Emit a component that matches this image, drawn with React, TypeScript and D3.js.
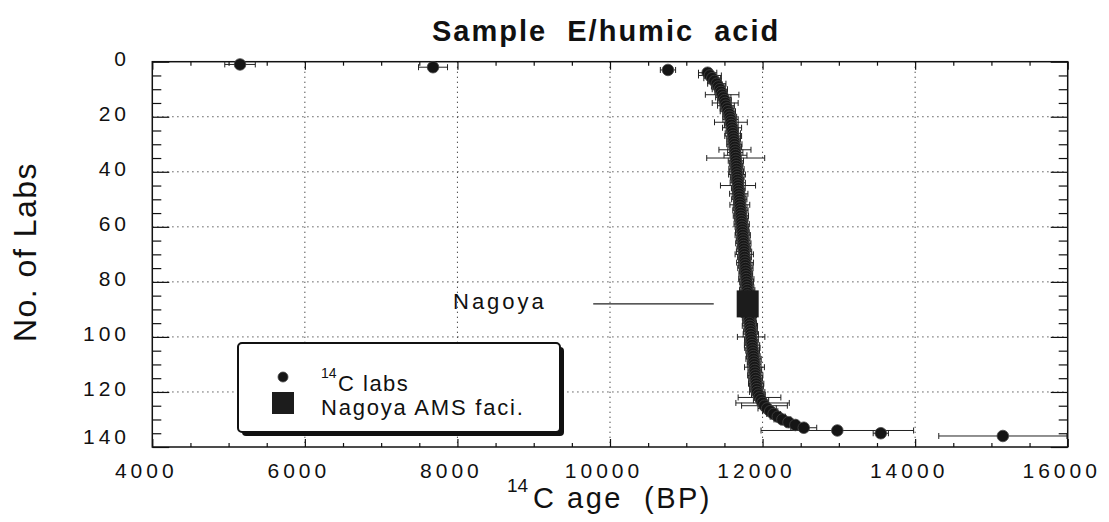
import { useEffect, useRef } from "react";
import * as d3 from "d3";

// axis ticks
const xTicks = [4000, 6000, 8000, 10000, 12000, 14000, 16000];
const yTicks = [0, 20, 40, 60, 80, 100, 120, 140];
const xMinor = [4500, 5000, 5500, 6500, 7000, 7500, 8500, 9000, 9500, 10500, 11000, 11500, 12500, 13000, 13500, 14500, 15000, 15500];
const yMinor = [5, 10, 15, 25, 30, 35, 45, 50, 55, 65, 70, 75, 85, 90, 95, 105, 110, 115, 125, 130, 135];

// 14C age (BP) of each lab, sorted; rank = index + 1
const labAges = [
  5150, 7680, 10760, 11280, 11310, 11340, 11370, 11400, 11420, 11440,
  11455, 11470, 11485, 11500, 11510, 11520, 11535, 11545, 11560, 11570,
  11580, 11585, 11590, 11600, 11603, 11610, 11615, 11620, 11625, 11630,
  11635, 11638, 11642, 11645, 11648, 11650, 11654, 11656, 11658, 11660,
  11665, 11668, 11670, 11675, 11678, 11682, 11685, 11688, 11692, 11695,
  11700, 11702, 11706, 11710, 11713, 11716, 11720, 11722, 11726, 11730,
  11733, 11736, 11740, 11742, 11745, 11748, 11750, 11754, 11757, 11760,
  11763, 11766, 11770, 11772, 11775, 11778, 11780, 11784, 11787, 11790,
  11793, 11796, 11799, 11801, 11803, 11805, 11808, 11810, 11812, 11815,
  11818, 11821, 11825, 11827, 11830, 11834, 11838, 11842, 11846, 11850,
  11854, 11858, 11862, 11866, 11870, 11874, 11878, 11882, 11886, 11890,
  11894, 11898, 11900, 11904, 11908, 11912, 11916, 11920, 11924, 11930,
  11945, 11960, 11980, 12000, 12025, 12060, 12100, 12145, 12200, 12260,
  12340, 12430, 12540, 12980, 13550, 15150,
];

// 1-sigma errors (yr)
const labErrors = [
  200, 190, 100, 120, 150, 110, 90, 120, 90, 100,
  80, 220, 100, 90, 170, 110, 90, 100, 80, 90,
  100, 215, 90, 125, 80, 100, 110, 90, 80, 100,
  90, 210, 100, 150, 380, 100, 90, 80, 100, 90,
  110, 90, 80, 100, 230, 90, 80, 120, 90, 100,
  80, 130, 90, 100, 80, 100, 90, 80, 100, 90,
  80, 90, 100, 80, 90, 100, 80, 90, 100, 120,
  90, 80, 110, 90, 100, 80, 90, 80, 100, 90,
  80, 90, 100, 80, 90, 80, 90, 80, 100, 90,
  80, 100, 90, 80, 90, 100, 80, 90, 100, 180,
  90, 80, 100, 100, 90, 80, 90, 100, 80, 90,
  130, 90, 80, 100, 90, 80, 100, 90, 80, 100,
  90, 280, 100, 350, 300, 120, 100, 90, 100, 110,
  100, 120, 170, 1000, 100, 840,
];

const nagoyaRank = 88;
const nagoyaAge = 11805;
const nagoyaLine = [9780, 11360]; // leader line in age units

const W = 1109;
const H = 522;
const font = "'Liberation Sans', Arial, Helvetica, sans-serif";

const App = () => {
  const svgRef = useRef<SVGSVGElement>(null);

  useEffect(() => {
    const svg = d3.select(svgRef.current);
    svg.selectAll("*").remove();

    const left = 152.3, right = 1067.7, top = 61.7, bottom = 447;
    const x = d3.scaleLinear().domain([4000, 16000]).range([left, right]);
    const y = d3.scaleLinear().domain([0, 140]).range([top, bottom]);

    svg.append("rect").attr("width", W).attr("height", H).attr("fill", "white");

    // grid lines
    svg.selectAll(".vgrid")
      .data(xTicks.slice(1, -1))
      .join("line")
      .attr("x1", d => x(d)).attr("x2", d => x(d))
      .attr("y1", top).attr("y2", bottom)
      .attr("stroke", "#333").attr("stroke-width", 1)
      .attr("stroke-dasharray", "1.2,3.8");
    svg.selectAll(".hgrid")
      .data(yTicks.slice(1, -1))
      .join("line")
      .attr("x1", left).attr("x2", right)
      .attr("y1", d => y(d)).attr("y2", d => y(d))
      .attr("stroke", "#333").attr("stroke-width", 1)
      .attr("stroke-dasharray", "1.2,3.8");

    // ticks (inward)
    const tickStyle = (g: any) => {
      g.select(".domain").remove();
      g.selectAll("line").attr("stroke", "#111").attr("stroke-width", 1.2);
      g.selectAll("text").remove();
    };
    svg.append("g").attr("transform", `translate(0,${bottom})`)
      .call(d3.axisBottom(x).tickValues(xTicks).tickSize(-8).tickFormat(() => "")).call(tickStyle);
    svg.append("g").attr("transform", `translate(0,${bottom})`)
      .call(d3.axisBottom(x).tickValues(xMinor).tickSize(-4).tickFormat(() => "")).call(tickStyle);
    svg.append("g").attr("transform", `translate(0,${top})`)
      .call(d3.axisTop(x).tickValues(xTicks).tickSize(-8).tickFormat(() => "")).call(tickStyle);
    svg.append("g").attr("transform", `translate(0,${top})`)
      .call(d3.axisTop(x).tickValues(xMinor).tickSize(-4).tickFormat(() => "")).call(tickStyle);
    svg.append("g").attr("transform", `translate(${left},0)`)
      .call(d3.axisLeft(y).tickValues(yTicks).tickSize(-17).tickFormat(() => "")).call(tickStyle);
    svg.append("g").attr("transform", `translate(${left},0)`)
      .call(d3.axisLeft(y).tickValues(yMinor).tickSize(-9).tickFormat(() => "")).call(tickStyle);
    svg.append("g").attr("transform", `translate(${right},0)`)
      .call(d3.axisRight(y).tickValues(yTicks).tickSize(-17).tickFormat(() => "")).call(tickStyle);
    svg.append("g").attr("transform", `translate(${right},0)`)
      .call(d3.axisRight(y).tickValues(yMinor).tickSize(-9).tickFormat(() => "")).call(tickStyle);

    // frame
    svg.append("rect")
      .attr("x", left).attr("y", top)
      .attr("width", right - left).attr("height", bottom - top)
      .attr("fill", "none").attr("stroke", "#111").attr("stroke-width", 1.5);

    // tick labels
    svg.selectAll(".xlab")
      .data(xTicks)
      .join("text")
      .attr("x", d => x(d) - 6).attr("y", 478)
      .attr("text-anchor", "middle")
      .style("font-family", font).style("font-size", "21px")
      .style("letter-spacing", "4px").attr("fill", "#111")
      .text(d => d);
    svg.selectAll(".ylab")
      .data(yTicks)
      .join("text")
      .attr("x", 130).attr("y", d => y(d) + (d === 140 ? -3 : 4))
      .attr("text-anchor", "end")
      .style("font-family", font).style("font-size", "21px")
      .style("letter-spacing", "4px").attr("fill", "#111")
      .text(d => d);

    // axis titles
    svg.append("text")
      .attr("transform", "translate(36,252) rotate(-90)")
      .attr("text-anchor", "middle")
      .style("font-family", font).style("font-size", "32px")
      .style("letter-spacing", "1.5px").attr("fill", "#111")
      .text("No. of Labs");
    svg.append("text")
      .attr("x", 507).attr("y", 492)
      .style("font-family", font).style("font-size", "19px").attr("fill", "#111")
      .text("14");
    svg.append("text")
      .attr("x", 533).attr("y", 508)
      .style("font-family", font).style("font-size", "29px")
      .style("letter-spacing", "2.5px").style("white-space", "pre").attr("fill", "#111")
      .text("C age  (BP)");

    // title
    svg.append("text")
      .attr("x", 432).attr("y", 41)
      .style("font-family", font).style("font-size", "29px").style("font-weight", "bold")
      .style("letter-spacing", "2px").style("white-space", "pre").attr("fill", "#111")
      .text("Sample  E/humic  acid");

    // error bars
    const bars = svg.append("g").attr("stroke", "#222").attr("stroke-width", 1);
    labAges.forEach((age, i) => {
      const e = labErrors[i];
      const cy = y(i + 1);
      bars.append("line").attr("x1", x(age - e)).attr("x2", x(age + e)).attr("y1", cy).attr("y2", cy);
      bars.append("line").attr("x1", x(age - e)).attr("x2", x(age - e)).attr("y1", cy - 3).attr("y2", cy + 3);
      bars.append("line").attr("x1", x(age + e)).attr("x2", x(age + e)).attr("y1", cy - 3).attr("y2", cy + 3);
    });

    // lab points
    svg.append("g")
      .selectAll("circle")
      .data(labAges)
      .join("circle")
      .attr("cx", d => x(d))
      .attr("cy", (d, i) => y(i + 1))
      .attr("r", 5.8)
      .attr("fill", "#151515")
      .attr("stroke", "#444")
      .attr("stroke-width", 0.8);

    // Nagoya AMS facility
    svg.append("rect")
      .attr("x", x(nagoyaAge) - 11).attr("y", y(nagoyaRank) - 13.5)
      .attr("width", 22).attr("height", 27)
      .attr("fill", "#1c1c1c");
    svg.append("line")
      .attr("x1", x(nagoyaLine[0])).attr("x2", x(nagoyaLine[1]))
      .attr("y1", y(nagoyaRank)).attr("y2", y(nagoyaRank))
      .attr("stroke", "#222").attr("stroke-width", 1.2);
    svg.append("text")
      .attr("x", 453).attr("y", 309)
      .style("font-family", font).style("font-size", "22px")
      .style("letter-spacing", "3px").attr("fill", "#111")
      .text("Nagoya");

    // legend
    const lg = svg.append("g");
    lg.append("rect").attr("x", 242).attr("y", 347).attr("width", 322).attr("height", 89)
      .attr("rx", 4).attr("fill", "#111");
    lg.append("rect").attr("x", 238).attr("y", 343).attr("width", 322).attr("height", 89)
      .attr("rx", 4).attr("fill", "white").attr("stroke", "#111").attr("stroke-width", 2);
    lg.append("circle").attr("cx", 283).attr("cy", 377).attr("r", 5)
      .attr("fill", "#151515").attr("stroke", "#444").attr("stroke-width", 0.8);
    lg.append("rect").attr("x", 272).attr("y", 392).attr("width", 22).attr("height", 22)
      .attr("fill", "#1c1c1c");
    lg.append("text").attr("x", 321).attr("y", 378)
      .style("font-family", font).style("font-size", "14px").attr("fill", "#111")
      .text("14");
    lg.append("text").attr("x", 338).attr("y", 391)
      .style("font-family", font).style("font-size", "22px")
      .style("letter-spacing", "1.5px").attr("fill", "#111")
      .text("C labs");
    lg.append("text").attr("x", 321).attr("y", 415)
      .style("font-family", font).style("font-size", "22px")
      .style("letter-spacing", "1.8px").attr("fill", "#111")
      .text("Nagoya AMS faci.");
  }, []);

  return (
    <div style={{ position: "fixed", left: 0, top: 0 }}>
      <svg ref={svgRef} width={W} height={H} style={{ display: "block" }}></svg>
    </div>
  );
};

export default App;
